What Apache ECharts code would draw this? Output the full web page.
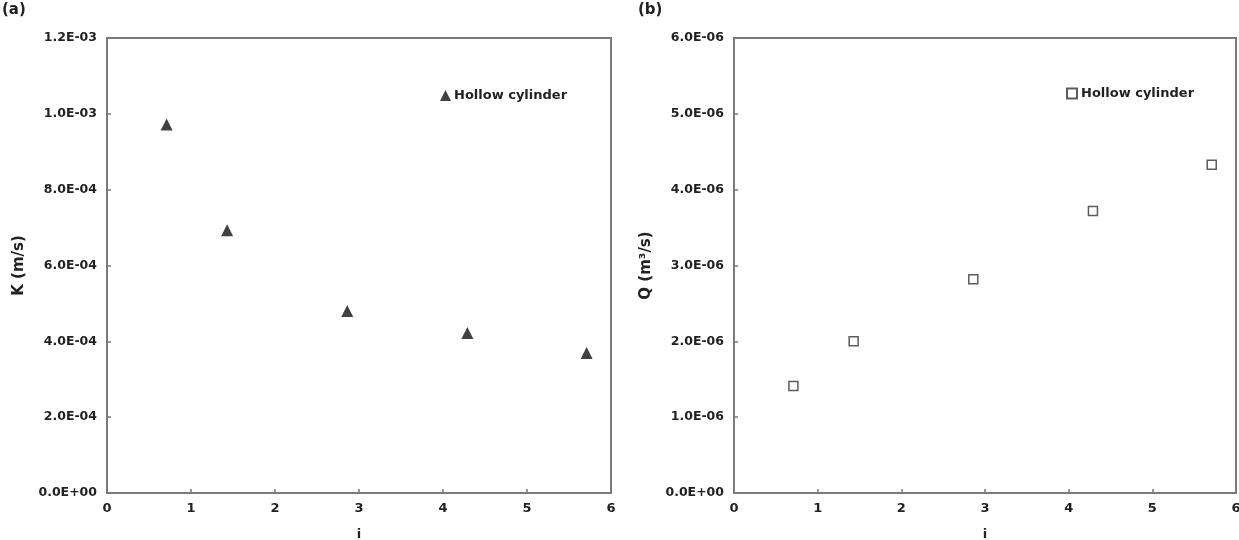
<!DOCTYPE html>
<html><head><meta charset="utf-8">
<script src="https://cdn.jsdelivr.net/npm/echarts@6/dist/echarts.min.js"></script>
<style>html,body{margin:0;padding:0;background:#fff;overflow:hidden}#c{width:1239px;height:540px}</style>
</head><body><div id="c"></div>
<script>
var iValues = [0.71, 1.43, 2.86, 4.29, 5.71];
var kValues = [9.72e-4, 6.93e-4, 4.80e-4, 4.22e-4, 3.69e-4];
var qValues = [1.41e-6, 2.00e-6, 2.82e-6, 3.72e-6, 4.33e-6];
var xTicks = [0, 1, 2, 3, 4, 5, 6];
var seriesLabel = 'Hollow cylinder';

function sci(v) {
  if (v === 0) return '0.0E+00';
  var s = v.toExponential(1).toUpperCase();
  var m = s.split('E');
  var e = parseInt(m[1], 10);
  var sign = e < 0 ? '-' : '+';
  var a = Math.abs(e);
  return m[0] + 'E' + sign + (a < 10 ? '0' + a : a);
}
var txt = '#222';
var font = 'DejaVu Sans';
var axisLine = {show: true, lineStyle: {color: '#7a7a7a', width: 2}};
function xAxis(gi) {
  return {
    type: 'value', gridIndex: gi, min: 0, max: 6, interval: 1,
    name: 'i', nameLocation: 'middle', nameGap: 35,
    nameTextStyle: {color: txt, fontFamily: font, fontWeight: 'bold', fontSize: 13},
    axisLine: axisLine,
    axisTick: {show: true, inside: true, length: 4, lineStyle: {color: '#7a7a7a', width: 1.5}},
    axisLabel: {color: txt, fontFamily: font, fontWeight: 'bold', fontSize: 13, margin: 9,
      formatter: function (v) { return xTicks.indexOf(v) >= 0 ? String(v) : ''; }},
    splitLine: {show: false}
  };
}
function yAxis(gi, max, interval, name) {
  return {
    type: 'value', gridIndex: gi, min: 0, max: max, interval: interval,
    name: name, nameLocation: 'middle', nameGap: 80, nameRotate: 90,
    nameTextStyle: {color: txt, fontFamily: font, fontWeight: 'bold', fontSize: 15},
    axisLine: axisLine,
    axisTick: {show: true, inside: true, length: 4, lineStyle: {color: '#7a7a7a', width: 1.5}},
    axisLabel: {color: txt, fontFamily: font, fontWeight: 'bold', fontSize: 12.5, margin: 10, formatter: sci},
    splitLine: {show: false}
  };
}
var chart = echarts.init(document.getElementById('c'));
chart.setOption({
  backgroundColor: '#fff',
  animation: false,
  title: [
    {text: '(a)', left: 2, top: 3, padding: 0, textStyle: {color: txt, fontFamily: font, fontWeight: 'bold', fontSize: 15}},
    {text: '(b)', left: 638, top: 3, padding: 0, textStyle: {color: txt, fontFamily: font, fontWeight: 'bold', fontSize: 15}}
  ],
  grid: [
    {left: 107, right: 628, top: 38, bottom: 47, outerBoundsMode: 'none', containLabel: false, show: true, borderColor: '#7a7a7a', borderWidth: 2, backgroundColor: 'transparent'},
    {left: 734, right: 3, top: 38, bottom: 47, outerBoundsMode: 'none', containLabel: false, show: true, borderColor: '#7a7a7a', borderWidth: 2, backgroundColor: 'transparent'}
  ],
  xAxis: [xAxis(0), xAxis(1)],
  yAxis: [yAxis(0, 1.2e-3, 2e-4, 'K (m/s)'), yAxis(1, 6e-6, 1e-6, 'Q (m\u00b3/s)')],
  legend: [
    {data: ['a'], left: 440, top: 89, padding: 0, itemWidth: 11, itemHeight: 11, itemGap: 0,
      formatter: function () { return seriesLabel; },
      textStyle: {color: txt, fontFamily: font, fontWeight: 'bold', fontSize: 13, padding: [0, 0, 0, -2]}},
    {data: ['b'], left: 1066, top: 87, padding: 0, itemWidth: 10, itemHeight: 10, itemGap: 0,
      formatter: function () { return seriesLabel; },
      textStyle: {color: txt, fontFamily: font, fontWeight: 'bold', fontSize: 13, padding: [0, 0, 0, -1]}}
  ],
  series: [
    {name: 'a', type: 'scatter', xAxisIndex: 0, yAxisIndex: 0, symbol: 'triangle', symbolSize: 12,
      itemStyle: {color: '#111'},
      data: iValues.map(function (x, k) { return [x, kValues[k]]; })},
    {name: 'b', type: 'scatter', xAxisIndex: 1, yAxisIndex: 1, symbol: 'rect', symbolSize: 9,
      itemStyle: {color: '#fff', borderColor: '#333', borderWidth: 1.5},
      data: iValues.map(function (x, k) { return [x, qValues[k]]; })}
  ]
});
</script></body></html>
